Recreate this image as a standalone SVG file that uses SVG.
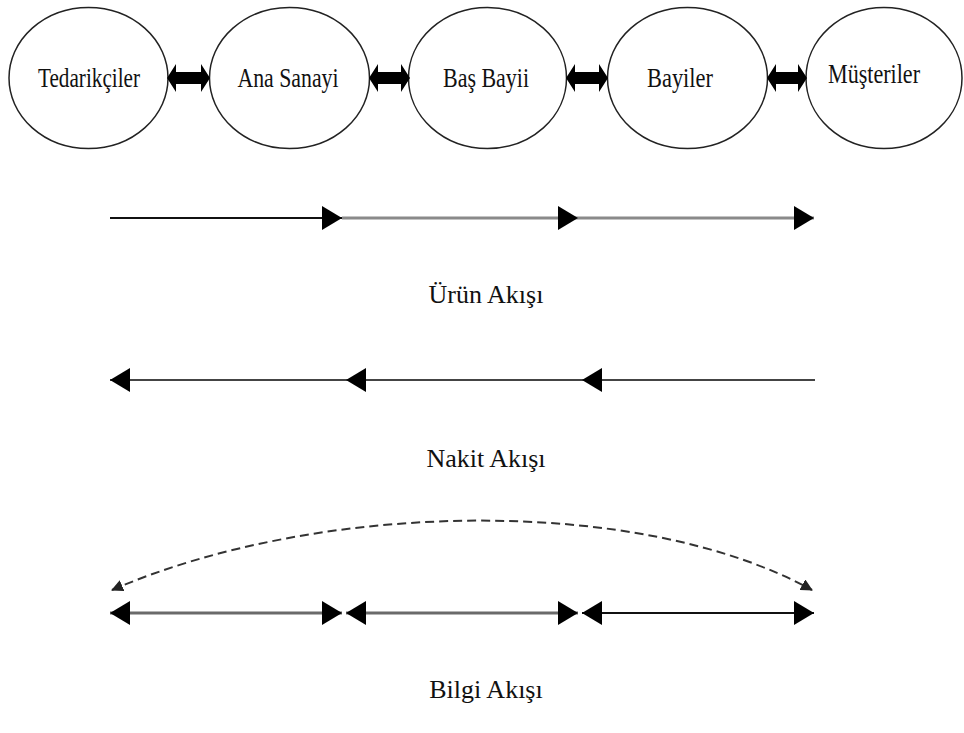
<svg xmlns="http://www.w3.org/2000/svg" width="964" height="733" viewBox="0 0 964 733">
  <style>
    .node ellipse { fill: #ffffff; stroke: #222222; stroke-width: 1.5; }
    .node text { font-family: "Liberation Serif", "Times New Roman", serif; font-size: 27px; fill: #111111; text-anchor: middle; }
    .link { fill: #000000; }
    .flow { fill: none; stroke-width: 2; }
    .flow.wide { stroke-width: 3; }
    .caption { font-family: "Liberation Serif", "Times New Roman", serif; font-size: 26px; fill: #111111; text-anchor: middle; }
  </style>
  <defs>
    <marker id="head" markerUnits="userSpaceOnUse" markerWidth="20" markerHeight="24" refX="20" refY="12" orient="auto-start-reverse">
      <path d="M0,0 L20,12 L0,24 Z" fill="#000000"/>
    </marker>
    <marker id="small" markerUnits="userSpaceOnUse" markerWidth="12" markerHeight="12" refX="11" refY="6" orient="auto-start-reverse">
      <path d="M0,0 L12,6 L0,12 Z" fill="#222222"/>
    </marker>
  </defs>

  <rect width="964" height="733" fill="#ffffff"/>

  <!-- chain members -->
  <g id="tedarikciler" class="node">
    <ellipse cx="88.5" cy="78" rx="79.5" ry="70.5"/>
    <text x="89" y="87" textLength="102" lengthAdjust="spacingAndGlyphs">Tedarikçiler</text>
  </g>
  <g id="ana-sanayi" class="node">
    <ellipse cx="289.5" cy="78" rx="80" ry="70.5"/>
    <text x="288" y="87" textLength="101" lengthAdjust="spacingAndGlyphs">Ana Sanayi</text>
  </g>
  <g id="bas-bayii" class="node">
    <ellipse cx="487.5" cy="78" rx="79" ry="70.5"/>
    <text x="486" y="87" textLength="86" lengthAdjust="spacingAndGlyphs">Baş Bayii</text>
  </g>
  <g id="bayiler" class="node">
    <ellipse cx="687.5" cy="78" rx="80" ry="70.5"/>
    <text x="680" y="87" textLength="66" lengthAdjust="spacingAndGlyphs">Bayiler</text>
  </g>
  <g id="musteriler" class="node">
    <ellipse cx="884" cy="78" rx="78" ry="70.5"/>
    <text x="874" y="83" textLength="92" lengthAdjust="spacingAndGlyphs">Müşteriler</text>
  </g>

  <!-- links between members and the three flows -->
  <g id="connectors">
    <!-- two-way block arrows between neighbouring members -->
    <polygon class="link" points="167,78 176,64 176,72 201,72 201,64 210,78 201,92 201,84 176,84 176,92"/>
    <polygon class="link" points="369,78 378,64 378,72 401,72 401,64 410,78 401,92 401,84 378,84 378,92"/>
    <polygon class="link" points="566,78 575,64 575,72 599,72 599,64 608,78 599,92 599,84 575,84 575,92"/>
    <polygon class="link" points="767,78 776,64 776,72 798,72 798,64 807,78 798,92 798,84 776,84 776,92"/>

    <!-- product flow -->
    <line class="flow" x1="110" y1="218" x2="342" y2="218" stroke="#111111" marker-end="url(#head)"/>
    <line class="flow wide" x1="342" y1="218" x2="578" y2="218" stroke="#8a8a8a" marker-end="url(#head)"/>
    <line class="flow wide" x1="578" y1="218" x2="814" y2="218" stroke="#8a8a8a" marker-end="url(#head)"/>

    <!-- cash flow -->
    <line class="flow" x1="815" y1="380" x2="582" y2="380" stroke="#444444" marker-end="url(#head)"/>
    <line class="flow" x1="582" y1="380" x2="346" y2="380" stroke="#444444" marker-end="url(#head)"/>
    <line class="flow" x1="346" y1="380" x2="110" y2="380" stroke="#444444" marker-end="url(#head)"/>

    <!-- information flow -->
    <path class="flow" d="M112,590 C320,500 640,495 812,590" stroke="#333333" stroke-dasharray="9 5" marker-start="url(#small)" marker-end="url(#small)"/>
    <line class="flow wide" x1="110" y1="613" x2="342" y2="613" stroke="#6a6a6a" marker-start="url(#head)" marker-end="url(#head)"/>
    <line class="flow wide" x1="346" y1="613" x2="578" y2="613" stroke="#6a6a6a" marker-start="url(#head)" marker-end="url(#head)"/>
    <line class="flow" x1="582" y1="613" x2="814" y2="613" stroke="#111111" marker-start="url(#head)" marker-end="url(#head)"/>
  </g>

  <!-- flow captions -->
  <text class="caption" x="486" y="303">Ürün Akışı</text>
  <text class="caption" x="486" y="467">Nakit Akışı</text>
  <text class="caption" x="486" y="698">Bilgi Akışı</text>
</svg>
